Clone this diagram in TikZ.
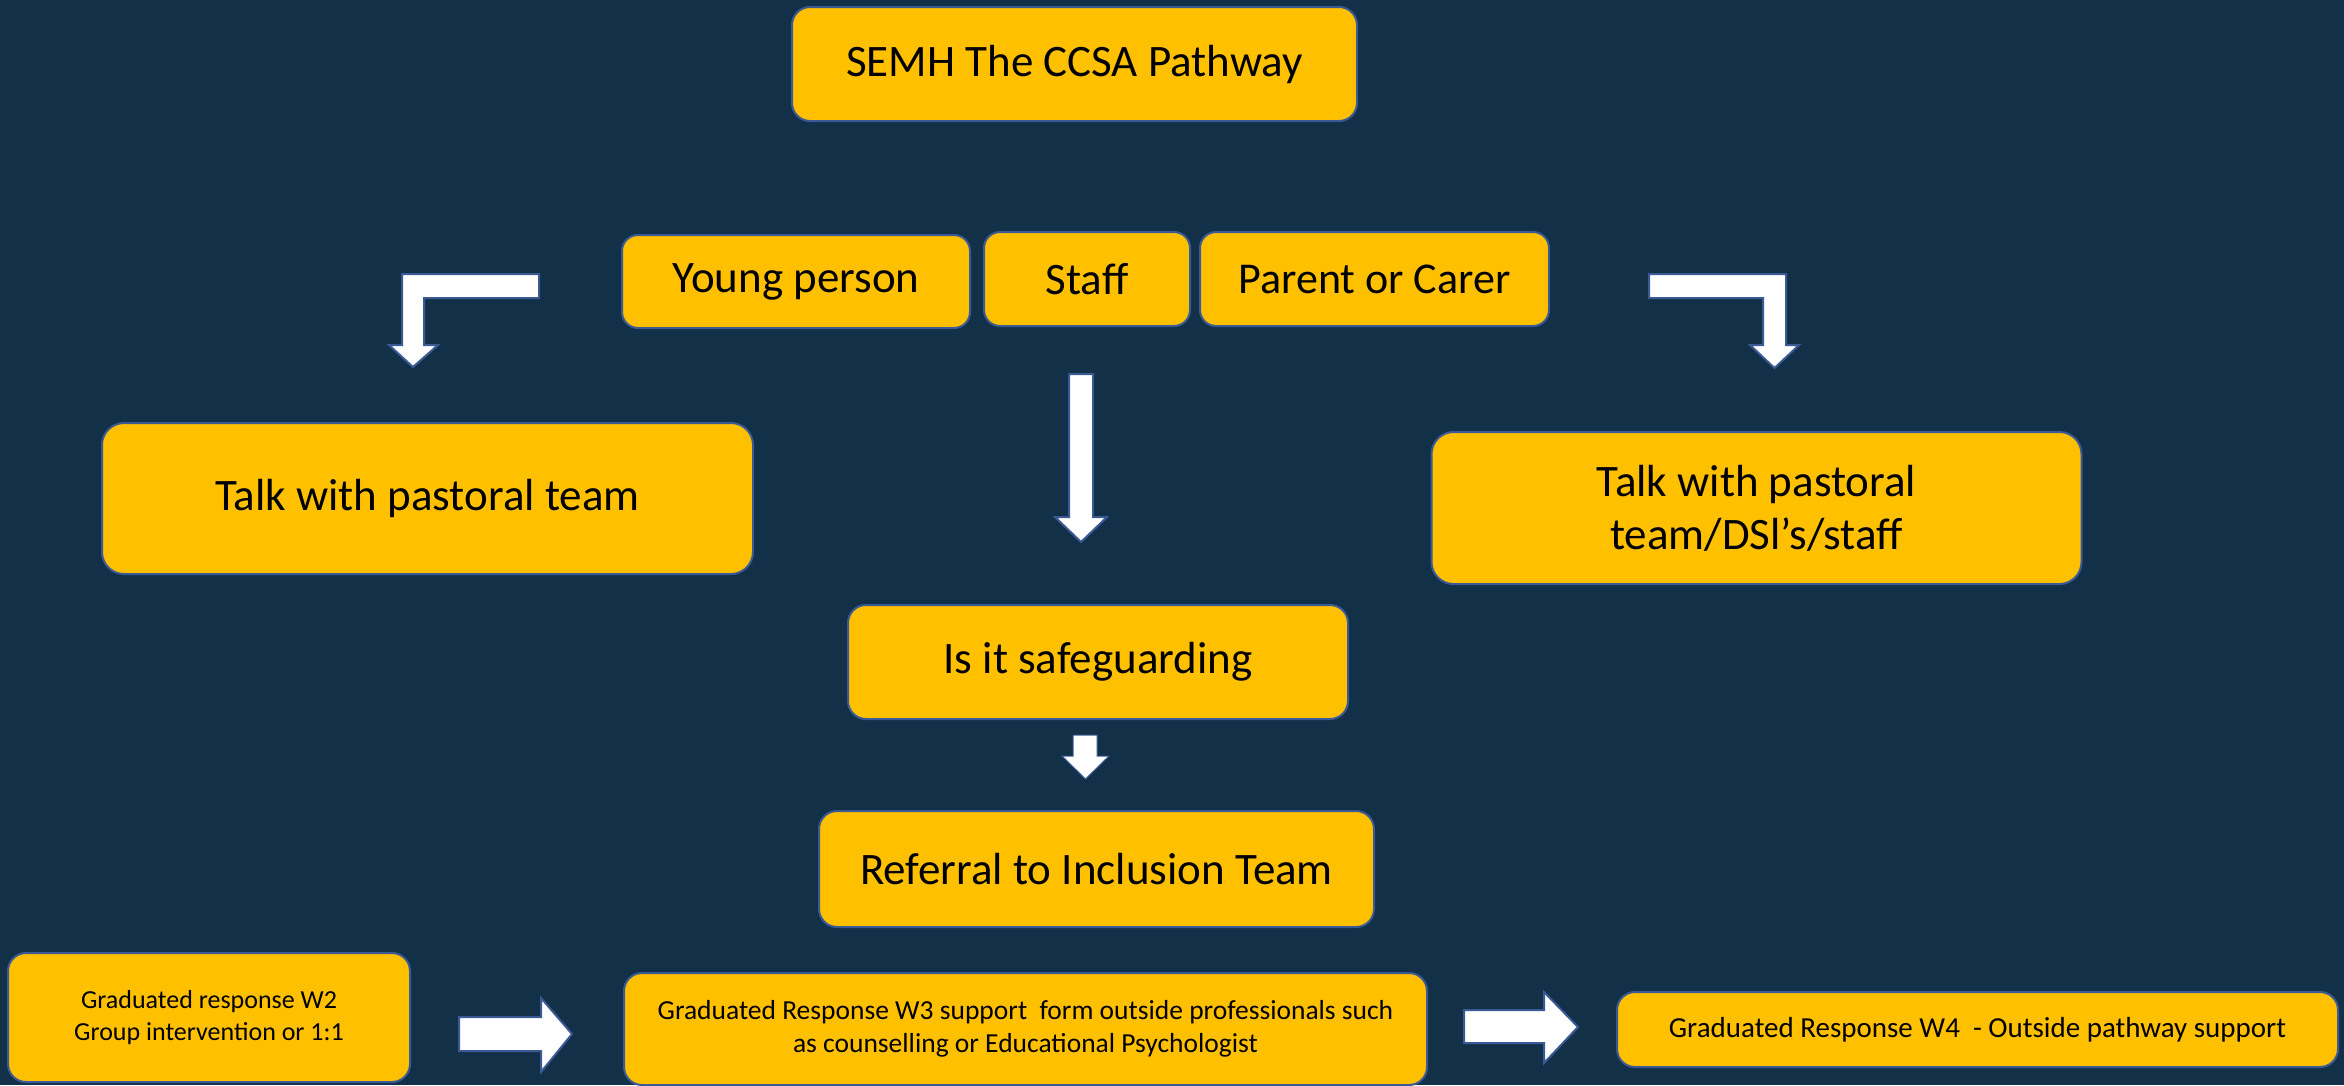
\documentclass[tikz,border=0pt]{standalone}
\usepackage{fontspec}
\setmainfont{Carlito}
\definecolor{bg}{HTML}{123047}
\definecolor{gold}{HTML}{FFC000}
\definecolor{edge}{HTML}{3B5A95}
\tikzset{
  box/.style={rectangle, rounded corners=22pt, fill=gold, draw=edge, line width=2pt,
    inner sep=0pt, align=center, text=black, font=\fontsize{45}{53}\selectfont},
  smallbox/.style={box, rounded corners=18pt, font=\fontsize{27.5}{33}\selectfont},
  blockarrow/.style={fill=white, draw=edge, line width=2pt, line join=miter}
}
\begin{document}
\begin{tikzpicture}[x=1pt,y=-1pt]
\useasboundingbox (0,0) rectangle (2344,1085);
\fill[bg] (0,0) rectangle (2344,1085);

% boxes
\node[box, rounded corners=18pt, minimum width=565pt, minimum height=114pt] (title) at (1074.5,64) {SEMH The CCSA Pathway};
\node[box, rounded corners=16pt, minimum width=348pt, minimum height=93pt] (young) at (796,281.5) {Young person};
\node[box, rounded corners=16pt, minimum width=206pt, minimum height=94pt] (staff) at (1087,279) {Staff};
\node[box, rounded corners=16pt, minimum width=349pt, minimum height=94pt, font=\fontsize{44}{52}\selectfont] (parent) at (1374.5,279) {Parent or Carer};
\node[box, minimum width=651pt, minimum height=151pt] (talkL) at (427.5,498.5) {Talk with pastoral team};
\node[box, minimum width=650pt, minimum height=152pt] (talkR) at (1756.5,508) {Talk with pastoral\\team/DSl’s/staff};
\node[box, rounded corners=18pt, minimum width=500pt, minimum height=114pt] (safe) at (1098,662) {Is it safeguarding};
\node[box, rounded corners=18pt, minimum width=555pt, minimum height=116pt] (referral) at (1096.5,869) {Referral to Inclusion Team};
\node[smallbox, minimum width=402pt, minimum height=129pt, font=\fontsize{26}{32}\selectfont] (w2) at (209,1017.5) {Graduated response W2\\Group intervention or 1:1};
\node[smallbox, minimum width=803pt, minimum height=112pt] (w3) at (1025.5,1029) {Graduated Response W3 support\ \ form outside professionals such\\as counselling or Educational Psychologist};
\node[smallbox, minimum width=721pt, minimum height=75pt, font=\fontsize{29}{35}\selectfont] (w4) at (1977.5,1029.5) {Graduated Response W4\ \ - Outside pathway support};

% bent arrow left
\draw[blockarrow] (539,274) -- (402,274) -- (402,345) -- (389,345) -- (413,367) -- (438,345) -- (424,345) -- (424,298) -- (539,298) -- cycle;
% bent arrow right
\draw[blockarrow] (1649,274) -- (1786,274) -- (1786,345) -- (1799,345) -- (1774.5,368) -- (1750,345) -- (1763,345) -- (1763,298) -- (1649,298) -- cycle;
% central down arrow
\draw[blockarrow] (1069,374) -- (1093,374) -- (1093,517) -- (1107,517) -- (1081,542) -- (1055,517) -- (1069,517) -- cycle;
% small down arrow
\draw[blockarrow, line width=1pt] (1073,735) -- (1097,735) -- (1097,756) -- (1109,756) -- (1085.5,779) -- (1062,756) -- (1073,756) -- cycle;
% right arrow W2 -> W3
\draw[blockarrow] (459,1017) -- (541,1017) -- (541,998) -- (572,1034) -- (541,1072) -- (541,1051) -- (459,1051) -- cycle;
% right arrow W3 -> W4
\draw[blockarrow] (1464,1010) -- (1544,1010) -- (1544,992) -- (1578,1027) -- (1544,1063) -- (1544,1043) -- (1464,1043) -- cycle;
\end{tikzpicture}
\end{document}
